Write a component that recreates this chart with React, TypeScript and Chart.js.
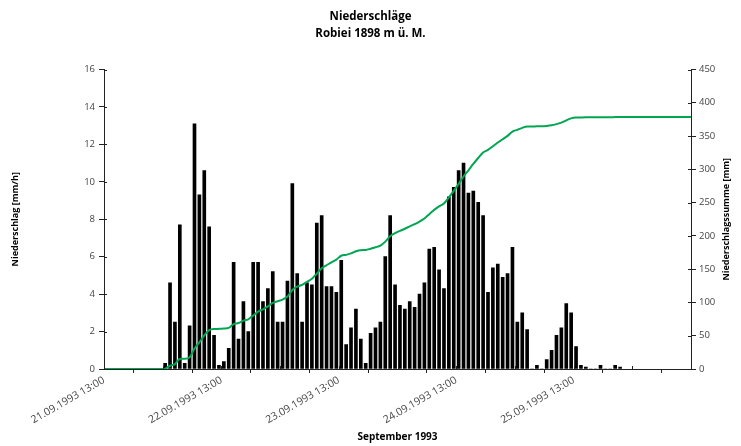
import React, { useEffect, useRef } from 'react';
import { Chart, registerables } from 'chart.js';

Chart.register(...registerables);

// Hours are counted from 21.09.1993 13:00
const totalHours = 120;
const rainStartHour = 12; // first hourly value: 22.09.1993 01:00

// Hourly precipitation [mm/h]
const rain = [
  0.3, 4.6, 2.5, 7.7, 0.3, 2.3, 13.1, 9.3, 10.6, 7.6,
  1.8, 0.2, 0.4, 1.1, 5.7, 1.6, 3.6, 2.0, 5.7, 5.7,
  3.6, 4.3, 5.2, 2.5, 2.5, 4.7, 9.9, 5.1, 2.5, 4.6,
  4.5, 7.8, 8.2, 4.4, 4.4, 4.1, 5.8, 1.3, 2.2, 3.2,
  1.6, 0.3, 1.9, 2.2, 2.5, 6.0, 8.2, 4.5, 3.4, 3.2,
  3.6, 3.3, 4.0, 4.6, 6.4, 6.5, 5.3, 4.3, 9.2, 9.7,
  10.6, 11.0, 9.4, 9.5, 8.9, 8.2, 4.1, 5.4, 5.6, 4.9,
  5.1, 6.5, 2.5, 3.0, 2.1, 0, 0.2, 0, 0.5, 1.0,
  1.8, 2.2, 3.5, 3.0, 1.2, 0.2, 0.1, 0, 0, 0.2,
  0, 0, 0.2, 0.1,
];

// Cumulative precipitation [mm]
const cumulative = [
  0.3, 4.9, 7.4, 15.1, 15.4, 17.7, 30.8, 40.1, 50.7, 58.3,
  60.1, 60.3, 60.7, 61.8, 67.5, 69.1, 72.7, 74.7, 80.4, 86.1,
  89.7, 94.0, 99.2, 101.7, 104.2, 108.9, 118.8, 123.9, 126.4, 131.0,
  135.5, 143.3, 151.5, 155.9, 160.3, 164.4, 170.2, 171.5, 173.7, 176.9,
  178.5, 178.8, 180.7, 182.9, 185.4, 191.4, 199.6, 204.1, 207.5, 210.7,
  214.3, 217.6, 221.6, 226.2, 232.6, 239.1, 244.4, 248.7, 257.9, 267.6,
  278.2, 289.2, 298.6, 308.1, 317.0, 325.2, 329.3, 334.7, 340.3, 345.2,
  350.3, 356.8, 359.3, 362.3, 364.4, 364.4, 364.6, 364.6, 365.1, 366.1,
  367.9, 370.1, 373.6, 376.6, 377.8, 378.0, 378.1, 378.1, 378.1, 378.3,
  378.3, 378.3, 378.5, 378.6,
];

const dayLabels = [
  '21.09.1993 13:00',
  '22.09.1993 13:00',
  '23.09.1993 13:00',
  '24.09.1993 13:00',
  '25.09.1993 13:00',
];

const rightAxisTitle = 'Niederschlagssumme [mm]';

const FONT = "'Open Sans', 'Noto Sans', sans-serif";
const AXIS_COLOR = '#222';

// Draws the small inner half of the crossing tick marks, and the right axis title (reading bottom-to-top)
const extrasPlugin = {
  id: 'extras',
  afterDraw(chart: any) {
    const { ctx, chartArea, scales } = chart;
    ctx.save();
    ctx.strokeStyle = AXIS_COLOR;
    ctx.lineWidth = 1;
    ctx.beginPath();
    for (const t of scales.y.ticks) {
      const py = Math.round(scales.y.getPixelForValue(t.value)) + 0.5;
      ctx.moveTo(chartArea.left, py);
      ctx.lineTo(chartArea.left + 3, py);
    }
    for (const t of scales.y1.ticks) {
      const py = Math.round(scales.y1.getPixelForValue(t.value)) + 0.5;
      ctx.moveTo(chartArea.right, py);
      ctx.lineTo(chartArea.right - 3, py);
    }
    for (const t of scales.x.ticks) {
      const px = Math.round(scales.x.getPixelForValue(t.value)) + 0.5;
      ctx.moveTo(px, chartArea.bottom);
      ctx.lineTo(px, chartArea.bottom - 3);
    }
    ctx.stroke();

    ctx.fillStyle = '#000';
    ctx.font = `bold 9px ${FONT}`;
    ctx.textAlign = 'center';
    ctx.textBaseline = 'middle';
    ctx.translate(chart.width - 14.5, (chartArea.top + chartArea.bottom) / 2);
    ctx.rotate(-Math.PI / 2);
    ctx.fillText(rightAxisTitle, 0, 0);
    ctx.restore();
  },
};

export default function App() {
  const ref = useRef<HTMLCanvasElement | null>(null);

  useEffect(() => {
    if (!ref.current) return;
    const barData = rain.map((v, i) => ({ x: rainStartHour + i + 0.5, y: v }));
    const lineData = [
      { x: 0, y: 0 },
      { x: rainStartHour, y: 0 },
      ...cumulative.map((v, i) => ({ x: rainStartHour + i + 0.5, y: v })),
      { x: totalHours, y: cumulative[cumulative.length - 1] },
    ];

    const chart = new Chart(ref.current, {
      type: 'bar',
      data: {
        datasets: [
          {
            type: 'line',
            data: lineData,
            yAxisID: 'y1',
            borderColor: '#00a651',
            borderWidth: 2,
            pointRadius: 0,
            cubicInterpolationMode: 'monotone',
            order: 0,
          } as any,
          {
            type: 'bar',
            data: barData,
            yAxisID: 'y',
            backgroundColor: '#000',
            barThickness: 3,
            order: 1,
          } as any,
        ],
      },
      options: {
        animation: false,
        responsive: true,
        maintainAspectRatio: false,
        layout: { padding: 0 },
        plugins: {
          legend: { display: false },
          tooltip: { enabled: false },
          title: {
            display: true,
            text: ['Niederschläge', 'Robiei 1898 m ü. M.'],
            color: '#000',
            font: { family: FONT, size: 11.5, weight: 'bold', lineHeight: 1.5 },
            padding: { top: 8, bottom: 27 },
          },
        },
        scales: {
          x: {
            type: 'linear',
            min: 0,
            max: totalHours,
            offset: false,
            ticks: {
              stepSize: 12,
              autoSkip: false,
              minRotation: 30,
              maxRotation: 30,
              color: '#444',
              font: { family: FONT, size: 10.5 },
              padding: 1,
              callback: (v: any) => {
                const n = Number(v);
                return n % 24 === 0 && dayLabels[n / 24] ? dayLabels[n / 24] : '';
              },
            },
            grid: { drawOnChartArea: false, tickLength: 4, color: AXIS_COLOR },
            border: { color: AXIS_COLOR },
            title: {
              display: true,
              text: 'September 1993',
              color: '#000',
              font: { family: FONT, size: 10, weight: 'bold' },
              padding: { top: 0, bottom: 3 },
            },
            afterFit: (s: any) => {
              s.height = 77;
            },
          },
          y: {
            position: 'left',
            min: 0,
            max: 16,
            ticks: { stepSize: 2, color: '#444', font: { family: FONT, size: 9.5 }, padding: 4 },
            grid: { drawOnChartArea: false, tickLength: 5, color: AXIS_COLOR },
            border: { color: AXIS_COLOR },
            title: {
              display: true,
              text: 'Niederschlag [mm/h]',
              color: '#000',
              font: { family: FONT, size: 9, weight: 'bold' },
              padding: { top: 10, bottom: 0 },
            },
            afterFit: (s: any) => {
              s.width = 104;
            },
          },
          y1: {
            position: 'right',
            min: 0,
            max: 450,
            ticks: { stepSize: 50, color: '#444', font: { family: FONT, size: 9.5 }, padding: 3 },
            grid: { drawOnChartArea: false, tickLength: 5, color: AXIS_COLOR },
            border: { color: AXIS_COLOR },
            afterFit: (s: any) => {
              s.width = 50;
            },
          },
        },
      } as any,
      plugins: [extrasPlugin],
    });
    return () => chart.destroy();
  }, []);

  return (
    <div style={{ position: 'fixed', left: 0, top: 0, width: 741, height: 446, background: '#fff' }}>
      <canvas ref={ref} />
    </div>
  );
}
